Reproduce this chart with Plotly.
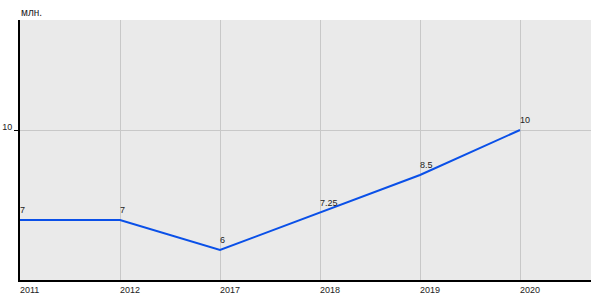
import plotly.graph_objects as go

years = ["2011", "2012", "2017", "2018", "2019", "2020"]
values = [7, 7, 6, 7.25, 8.5, 10]
labels = ["7", "7", "6", "7.25", "8.5", "10"]
unit = "млн."

xs = list(range(len(years)))
FONT = "Liberation Sans, Arial, sans-serif"

fig = go.Figure()
fig.add_trace(go.Scatter(
    x=xs, y=values, mode="lines",
    line=dict(color="#0a50e8", width=2),
    hoverinfo="skip", showlegend=False,
))

for x, v, t in zip(xs, values, labels):
    fig.add_annotation(x=x, y=v, text=t, showarrow=False,
                       xanchor="left", yanchor="bottom", xshift=-2, yshift=3,
                       font=dict(family=FONT, size=9, color="#222"))

# x tick labels, left-aligned at each category position
for x, t in zip(xs, years):
    fig.add_annotation(x=x, y=0, xref="x", yref="paper", text=t, showarrow=False,
                       xanchor="left", yanchor="top", xshift=-2, yshift=-3,
                       font=dict(family=FONT, size=9, color="#222"))

fig.add_annotation(xref="paper", yref="paper", x=0, y=1, text=unit,
                   showarrow=False, xanchor="left", yanchor="bottom", yshift=0, xshift=-1,
                   font=dict(family=FONT, size=10, color="#222"))

fig.update_layout(
    width=600, height=300,
    margin=dict(l=20, r=9, t=20, b=20),
    paper_bgcolor="white", plot_bgcolor="#eaeaea",
    font=dict(family=FONT, size=9, color="#222"),
    xaxis=dict(
        range=[0, 5.71], tickvals=xs, ticktext=[""] * len(xs),
        showgrid=True, gridcolor="#c8c8c8", gridwidth=1,
        showline=True, linecolor="black", linewidth=2,
        ticks="", showticklabels=False, automargin=False,
        zeroline=False, fixedrange=True,
    ),
    yaxis=dict(
        range=[5, 13.667], tickvals=[10], ticktext=["10"],
        showgrid=True, gridcolor="#c8c8c8", gridwidth=1,
        showline=True, linecolor="black", linewidth=2,
        ticks="outside", ticklen=4, tickcolor="black", tickwidth=1,
        ticklabelshift=-3, automargin=False,
        zeroline=False, fixedrange=True,
    ),
)

fig.write_html("out.html")
